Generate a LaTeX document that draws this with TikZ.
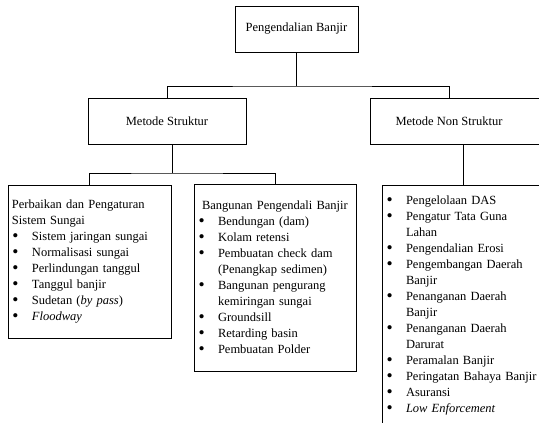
\documentclass[tikz,border=0pt]{standalone}
\usepackage{fontspec}
\setmainfont{Liberation Serif}
\usetikzlibrary{positioning}

\newcommand{\butir}{\makebox[20pt][l]{\hspace{0.5pt}\raisebox{-1.3pt}{\scalebox{1.4}{\textbullet}}}}
\newcommand{\lanjut}{\hspace*{20pt}}

\begin{document}
\begin{tikzpicture}[x=1pt,y=-1pt,
  kotak/.style={draw,line width=0.8pt,rectangle,inner sep=4pt,
    font=\fontsize{12.5}{16}\selectfont},
  daftar/.style={kotak,align=left,text width=#1}]
  \useasboundingbox (0,0) rectangle (539,423);
  \clip (0,0) rectangle (539,423);

  \node[kotak,minimum width=123,minimum height=46] (pb) at (296.5,29) {Pengendalian Banjir};
  \node[kotak,minimum width=158,minimum height=46] (ms) at (167,121) {Metode Struktur};
  \node[kotak,minimum width=190,minimum height=46] (mns) at (465,121) {Metode Non Struktur\hspace*{32pt}};

  \node[daftar=155pt,minimum height=153] (sungai) at (89.5,261.5) {%
    Perbaikan dan Pengaturan\\
    Sistem Sungai\\
    \butir Sistem jaringan sungai\\
    \butir Normalisasi sungai\\
    \butir Perlindungan tanggul\\
    \butir Tanggul banjir\\
    \butir Sudetan (\textit{by pass})\\
    \butir \textit{Floodway}};
  \node[daftar=154pt,minimum height=187] (bangunan) at (275,277.5) {%
    \hspace*{4pt}Bangunan Pengendali Banjir\\
    \butir Bendungan (dam)\\
    \butir Kolam retensi\\
    \butir Pembuatan check dam\\
    \lanjut (Penangkap sedimen)\\
    \butir Bangunan pengurang\\
    \lanjut kemiringan sungai\\
    \butir Groundsill\\
    \butir Retarding basin\\
    \butir Pembuatan Polder};
  \node[daftar=154pt,minimum height=241] (nonstruk) at (463,305.5) {%
    \butir Pengelolaan DAS\\
    \butir Pengatur Tata Guna\\
    \lanjut Lahan\\
    \butir Pengendalian Erosi\\
    \butir Pengembangan Daerah\\
    \lanjut Banjir\\
    \butir Penanganan Daerah\\
    \lanjut Banjir\\
    \butir Penanganan Daerah\\
    \lanjut Darurat\\
    \butir Peramalan Banjir\\
    \butir Peringatan Bahaya Banjir\\
    \butir Asuransi\\
    \butir \textit{Low Enforcement}};

  % penghubung
  \coordinate (j1) at (296.5,86);
  \coordinate (j2) at (172,173);
  \draw[line width=0.8pt] (pb.south) -- (j1);
  \draw[line width=0.8pt] (ms.north) |- (j1) -| ([xshift=-16pt]mns.north);
  \draw[line width=0.8pt] ([xshift=5pt]ms.south) -- (j2);
  \draw[line width=0.8pt] (sungai.north) |- (j2) -| (bangunan.north);
  \draw[line width=0.8pt] (nonstruk.north |- mns.south) -- (nonstruk.north);
\end{tikzpicture}
\end{document}
